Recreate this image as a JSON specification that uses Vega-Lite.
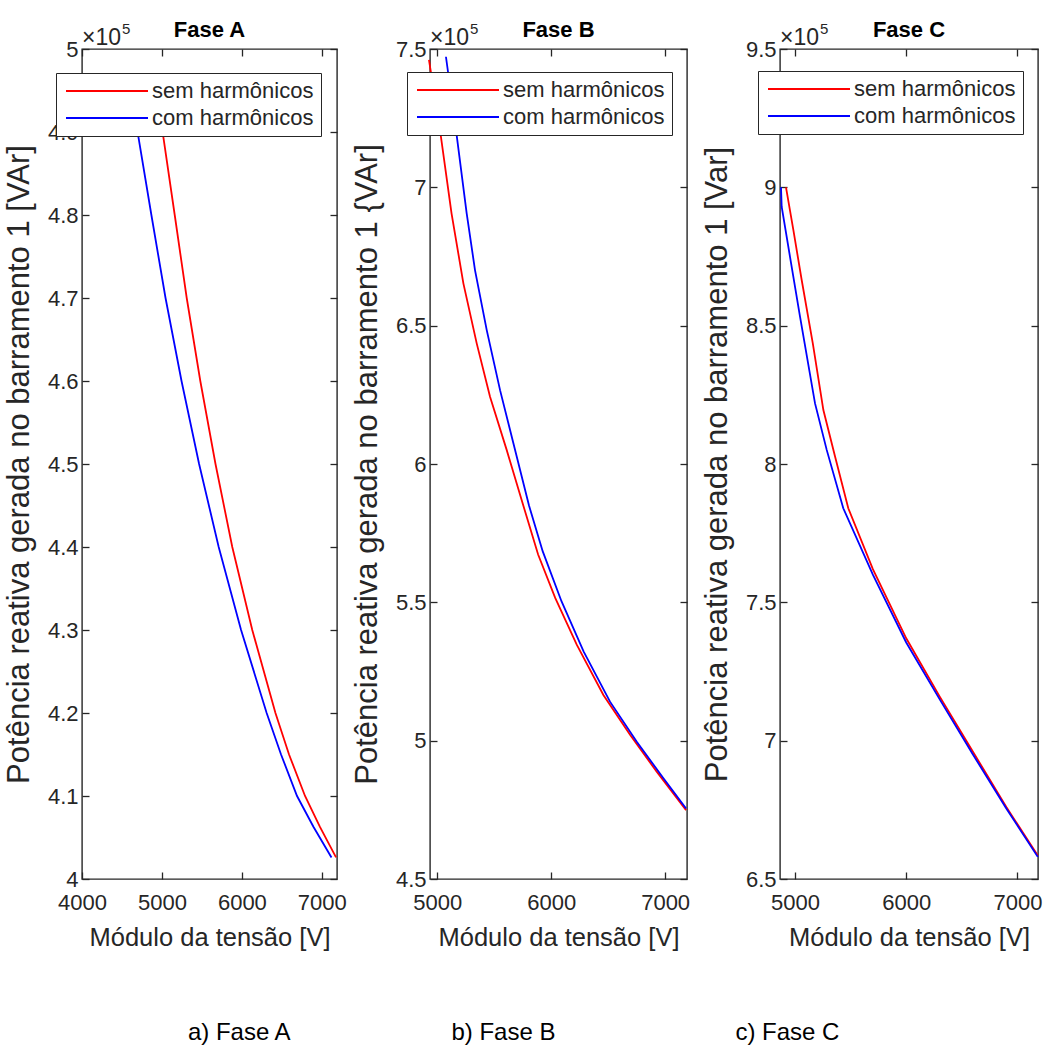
{
  "$schema": "https://vega.github.io/schema/vega-lite/v6.json",
  "padding": {"left": 2, "top": 18, "right": 5, "bottom": 5},
  "background": "white",
  "datasets": {
    "A": [
      {"serie": "sem harmônicos", "V": 4935, "Q": 4.950},
      {"serie": "sem harmônicos", "V": 5016, "Q": 4.895},
      {"serie": "sem harmônicos", "V": 5160, "Q": 4.800},
      {"serie": "sem harmônicos", "V": 5310, "Q": 4.700},
      {"serie": "sem harmônicos", "V": 5480, "Q": 4.600},
      {"serie": "sem harmônicos", "V": 5670, "Q": 4.500},
      {"serie": "sem harmônicos", "V": 5880, "Q": 4.400},
      {"serie": "sem harmônicos", "V": 6130, "Q": 4.300},
      {"serie": "sem harmônicos", "V": 6420, "Q": 4.200},
      {"serie": "sem harmônicos", "V": 6590, "Q": 4.150},
      {"serie": "sem harmônicos", "V": 6790, "Q": 4.100},
      {"serie": "sem harmônicos", "V": 6975, "Q": 4.063},
      {"serie": "sem harmônicos", "V": 7178, "Q": 4.026},
      {"serie": "com harmônicos", "V": 4640, "Q": 4.935},
      {"serie": "com harmônicos", "V": 4704, "Q": 4.895},
      {"serie": "com harmônicos", "V": 4868, "Q": 4.800},
      {"serie": "com harmônicos", "V": 5045, "Q": 4.700},
      {"serie": "com harmônicos", "V": 5245, "Q": 4.600},
      {"serie": "com harmônicos", "V": 5465, "Q": 4.500},
      {"serie": "com harmônicos", "V": 5710, "Q": 4.400},
      {"serie": "com harmônicos", "V": 5990, "Q": 4.300},
      {"serie": "com harmônicos", "V": 6310, "Q": 4.200},
      {"serie": "com harmônicos", "V": 6490, "Q": 4.150},
      {"serie": "com harmônicos", "V": 6690, "Q": 4.100},
      {"serie": "com harmônicos", "V": 6895, "Q": 4.063},
      {"serie": "com harmônicos", "V": 7121, "Q": 4.026}
    ],
    "B": [
      {"serie": "sem harmônicos", "V": 4927, "Q": 7.461},
      {"serie": "sem harmônicos", "V": 5030, "Q": 7.189},
      {"serie": "sem harmônicos", "V": 5125, "Q": 6.906},
      {"serie": "sem harmônicos", "V": 5229, "Q": 6.653},
      {"serie": "sem harmônicos", "V": 5346, "Q": 6.436},
      {"serie": "sem harmônicos", "V": 5463, "Q": 6.243},
      {"serie": "sem harmônicos", "V": 5609, "Q": 6.051},
      {"serie": "sem harmônicos", "V": 5755, "Q": 5.850},
      {"serie": "sem harmônicos", "V": 5885, "Q": 5.673},
      {"serie": "sem harmônicos", "V": 6035, "Q": 5.516},
      {"serie": "sem harmônicos", "V": 6224, "Q": 5.347},
      {"serie": "sem harmônicos", "V": 6458, "Q": 5.165},
      {"serie": "sem harmônicos", "V": 6692, "Q": 5.021},
      {"serie": "sem harmônicos", "V": 6926, "Q": 4.888},
      {"serie": "sem harmônicos", "V": 7184, "Q": 4.749},
      {"serie": "com harmônicos", "V": 5076, "Q": 7.472},
      {"serie": "com harmônicos", "V": 5170, "Q": 7.189},
      {"serie": "com harmônicos", "V": 5258, "Q": 6.906},
      {"serie": "com harmônicos", "V": 5331, "Q": 6.701},
      {"serie": "com harmônicos", "V": 5434, "Q": 6.484},
      {"serie": "com harmônicos", "V": 5551, "Q": 6.267},
      {"serie": "com harmônicos", "V": 5668, "Q": 6.075},
      {"serie": "com harmônicos", "V": 5805, "Q": 5.850},
      {"serie": "com harmônicos", "V": 5925, "Q": 5.685},
      {"serie": "com harmônicos", "V": 6090, "Q": 5.504},
      {"serie": "com harmônicos", "V": 6285, "Q": 5.322},
      {"serie": "com harmônicos", "V": 6516, "Q": 5.141},
      {"serie": "com harmônicos", "V": 6751, "Q": 4.996},
      {"serie": "com harmônicos", "V": 6985, "Q": 4.864},
      {"serie": "com harmônicos", "V": 7184, "Q": 4.755}
    ],
    "C": [
      {"serie": "sem harmônicos", "V": 4919, "Q": 9.000},
      {"serie": "sem harmônicos", "V": 4985, "Q": 8.846},
      {"serie": "sem harmônicos", "V": 5060, "Q": 8.665},
      {"serie": "sem harmônicos", "V": 5160, "Q": 8.436},
      {"serie": "sem harmônicos", "V": 5255, "Q": 8.195},
      {"serie": "sem harmônicos", "V": 5360, "Q": 8.027},
      {"serie": "sem harmônicos", "V": 5479, "Q": 7.840},
      {"serie": "sem harmônicos", "V": 5700, "Q": 7.620},
      {"serie": "sem harmônicos", "V": 6000, "Q": 7.370},
      {"serie": "sem harmônicos", "V": 6300, "Q": 7.160},
      {"serie": "sem harmônicos", "V": 6600, "Q": 6.960},
      {"serie": "sem harmônicos", "V": 6900, "Q": 6.760},
      {"serie": "sem harmônicos", "V": 7183, "Q": 6.585},
      {"serie": "com harmônicos", "V": 4874, "Q": 9.000},
      {"serie": "com harmônicos", "V": 4880, "Q": 8.930},
      {"serie": "com harmônicos", "V": 4955, "Q": 8.749},
      {"serie": "com harmônicos", "V": 5045, "Q": 8.533},
      {"serie": "com harmônicos", "V": 5180, "Q": 8.219},
      {"serie": "com harmônicos", "V": 5285, "Q": 8.051},
      {"serie": "com harmônicos", "V": 5434, "Q": 7.840},
      {"serie": "com harmônicos", "V": 5700, "Q": 7.600},
      {"serie": "com harmônicos", "V": 6000, "Q": 7.355},
      {"serie": "com harmônicos", "V": 6300, "Q": 7.150},
      {"serie": "com harmônicos", "V": 6600, "Q": 6.950},
      {"serie": "com harmônicos", "V": 6900, "Q": 6.755},
      {"serie": "com harmônicos", "V": 7183, "Q": 6.580}
    ],
    "mult": [{"m": "×10", "e": "5"}]
  },
  "config": {
    "font": "Liberation Sans",
    "view": {"stroke": "#262626", "strokeWidth": 1.4},
    "axis": {
      "labelFont": "Liberation Sans", "labelFontSize": 22, "labelColor": "#262626", "labelFlush": false, "labelOverlap": false,
      "titleFont": "Liberation Sans", "titleFontWeight": "normal", "titleColor": "#262626",
      "tickColor": "#262626", "tickSize": -7, "tickWidth": 1.3, "grid": false, "domain": false
    },
    "legend": {
      "labelFont": "Liberation Sans", "labelFontSize": 22, "labelColor": "#262626", "labelLimit": 400,
      "orient": "none", "title": null, "symbolType": "M-1.6,0H14.8", "symbolSize": 100, "symbolStrokeWidth": 1.8,
      "labelOffset": 67, "fillColor": "white", "strokeColor": "#262626", "padding": 7, "rowPadding": 5
    },
    "line": {"strokeWidth": 1.8, "clip": true}
  },
  "title": {
    "text": "a) Fase A\u2003\u2003\u2003\u2003\u2003\u2003\u2002\u2009b) Fase B\u2003\u2003\u2003\u2003\u2003\u2003\u2003\u2002c) Fase C",
    "orient": "bottom", "anchor": "middle", "fontSize": 24, "fontWeight": "normal",
    "font": "Liberation Sans", "color": "black", "offset": 70, "dx": -9
  },
  "resolve": {"scale": {"color": "independent", "x": "independent", "y": "independent"}, "legend": {"color": "independent"}},
  "spacing": 93,
  "bounds": "flush",
  "hconcat": [
    {
      "width": 255, "height": 830,
      "title": {"text": "Fase A", "fontSize": 22, "fontWeight": "bold", "color": "black", "offset": -20},
      "data": {"name": "A"},
      "resolve": {"axis": {"x": "independent", "y": "independent"}},
      "layer": [
        {
          "mark": "line",
          "encoding": {
            "x": {"field": "V", "type": "quantitative", "scale": {"domain": [4000, 7190], "nice": false, "zero": false},
                  "axis": {"orient": "bottom", "values": [4000, 5000, 6000, 7000], "format": "d", "title": "Módulo da tensão [V]", "titleFontSize": 25.5, "labelPadding": 20, "titlePadding": 12}},
            "y": {"field": "Q", "type": "quantitative", "scale": {"domain": [4, 5], "nice": false, "zero": false},
                  "axis": {"orient": "left", "values": [4, 4.1, 4.2, 4.3, 4.4, 4.5, 4.6, 4.7, 4.8, 4.9, 5], "format": "~g", "title": "Potência reativa gerada no barramento 1 [VAr]", "titleFontSize": 31, "labelPadding": 11, "titlePadding": 12}},
            "color": {"field": "serie", "type": "nominal",
                      "scale": {"domain": ["sem harmônicos", "com harmônicos"], "range": ["#ff0000", "#0000ff"]},
                      "legend": {"legendX": -26, "legendY": 24}}
          }
        },
        {
          "mark": {"type": "point", "opacity": 0},
          "encoding": {
            "x": {"field": "V", "type": "quantitative", "scale": {"domain": [4000, 7190], "nice": false, "zero": false},
                  "axis": {"orient": "top", "values": [4000, 5000, 6000, 7000], "labels": false, "title": null}},
            "y": {"field": "Q", "type": "quantitative", "scale": {"domain": [4, 5], "nice": false, "zero": false},
                  "axis": {"orient": "right", "values": [4, 4.1, 4.2, 4.3, 4.4, 4.5, 4.6, 4.7, 4.8, 4.9, 5], "labels": false, "title": null}}
          }
        },
        {
          "data": {"name": "mult"},
          "mark": {"type": "text", "align": "left", "baseline": "alphabetic", "dy": -4, "fontSize": 23, "font": "Liberation Sans", "color": "#262626"},
          "encoding": {"x": {"datum": 4000, "axis": null}, "y": {"datum": 5, "axis": null}, "text": {"field": "m"}}
        },
        {
          "data": {"name": "mult"},
          "mark": {"type": "text", "align": "left", "baseline": "alphabetic", "dx": 40, "dy": -15, "fontSize": 15, "font": "Liberation Sans", "color": "#262626"},
          "encoding": {"x": {"datum": 4000, "axis": null}, "y": {"datum": 5, "axis": null}, "text": {"field": "e"}}
        }
      ]
    },
    {
      "width": 257, "height": 830,
      "title": {"text": "Fase B", "fontSize": 22, "fontWeight": "bold", "color": "black", "offset": -20},
      "data": {"name": "B"},
      "resolve": {"axis": {"x": "independent", "y": "independent"}},
      "layer": [
        {
          "mark": "line",
          "encoding": {
            "x": {"field": "V", "type": "quantitative", "scale": {"domain": [4936, 7192], "nice": false, "zero": false},
                  "axis": {"orient": "bottom", "values": [5000, 6000, 7000], "format": "d", "title": "Módulo da tensão [V]", "titleFontSize": 25.5, "labelPadding": 20, "titlePadding": 12}},
            "y": {"field": "Q", "type": "quantitative", "scale": {"domain": [4.5, 7.5], "nice": false, "zero": false},
                  "axis": {"orient": "left", "values": [4.5, 5, 5.5, 6, 6.5, 7, 7.5], "format": "~g", "title": "Potência reativa gerada no barramento 1 {VAr]", "titleFontSize": 31, "labelPadding": 11, "titlePadding": 12}},
            "color": {"field": "serie", "type": "nominal",
                      "scale": {"domain": ["sem harmônicos", "com harmônicos"], "range": ["#ff0000", "#0000ff"]},
                      "legend": {"legendX": -23, "legendY": 23}}
          }
        },
        {
          "mark": {"type": "point", "opacity": 0},
          "encoding": {
            "x": {"field": "V", "type": "quantitative", "scale": {"domain": [4936, 7192], "nice": false, "zero": false},
                  "axis": {"orient": "top", "values": [5000, 6000, 7000], "labels": false, "title": null}},
            "y": {"field": "Q", "type": "quantitative", "scale": {"domain": [4.5, 7.5], "nice": false, "zero": false},
                  "axis": {"orient": "right", "values": [4.5, 5, 5.5, 6, 6.5, 7, 7.5], "labels": false, "title": null}}
          }
        },
        {
          "data": {"name": "mult"},
          "mark": {"type": "text", "align": "left", "baseline": "alphabetic", "dy": -4, "fontSize": 23, "font": "Liberation Sans", "color": "#262626"},
          "encoding": {"x": {"datum": 4936, "axis": null}, "y": {"datum": 7.5, "axis": null}, "text": {"field": "m"}}
        },
        {
          "data": {"name": "mult"},
          "mark": {"type": "text", "align": "left", "baseline": "alphabetic", "dx": 40, "dy": -15, "fontSize": 15, "font": "Liberation Sans", "color": "#262626"},
          "encoding": {"x": {"datum": 4936, "axis": null}, "y": {"datum": 7.5, "axis": null}, "text": {"field": "e"}}
        }
      ]
    },
    {
      "width": 258, "height": 830,
      "title": {"text": "Fase C", "fontSize": 22, "fontWeight": "bold", "color": "black", "offset": -20},
      "data": {"name": "C"},
      "resolve": {"axis": {"x": "independent", "y": "independent"}},
      "layer": [
        {
          "mark": "line",
          "encoding": {
            "x": {"field": "V", "type": "quantitative", "scale": {"domain": [4865, 7185], "nice": false, "zero": false},
                  "axis": {"orient": "bottom", "values": [5000, 6000, 7000], "format": "d", "title": "Módulo da tensão [V]", "titleFontSize": 25.5, "labelPadding": 20, "titlePadding": 12}},
            "y": {"field": "Q", "type": "quantitative", "scale": {"domain": [6.5, 9.5], "nice": false, "zero": false},
                  "axis": {"orient": "left", "values": [6.5, 7, 7.5, 8, 8.5, 9, 9.5], "format": "~g", "title": "Potência reativa gerada no barramento 1 [Var]", "titleFontSize": 31, "labelPadding": 11, "titlePadding": 12}},
            "color": {"field": "serie", "type": "nominal",
                      "scale": {"domain": ["sem harmônicos", "com harmônicos"], "range": ["#ff0000", "#0000ff"]},
                      "legend": {"legendX": -22, "legendY": 22}}
          }
        },
        {
          "mark": {"type": "point", "opacity": 0},
          "encoding": {
            "x": {"field": "V", "type": "quantitative", "scale": {"domain": [4865, 7185], "nice": false, "zero": false},
                  "axis": {"orient": "top", "values": [5000, 6000, 7000], "labels": false, "title": null}},
            "y": {"field": "Q", "type": "quantitative", "scale": {"domain": [6.5, 9.5], "nice": false, "zero": false},
                  "axis": {"orient": "right", "values": [6.5, 7, 7.5, 8, 8.5, 9, 9.5], "labels": false, "title": null}}
          }
        },
        {
          "data": {"name": "mult"},
          "mark": {"type": "text", "align": "left", "baseline": "alphabetic", "dy": -4, "fontSize": 23, "font": "Liberation Sans", "color": "#262626"},
          "encoding": {"x": {"datum": 4865, "axis": null}, "y": {"datum": 9.5, "axis": null}, "text": {"field": "m"}}
        },
        {
          "data": {"name": "mult"},
          "mark": {"type": "text", "align": "left", "baseline": "alphabetic", "dx": 40, "dy": -15, "fontSize": 15, "font": "Liberation Sans", "color": "#262626"},
          "encoding": {"x": {"datum": 4865, "axis": null}, "y": {"datum": 9.5, "axis": null}, "text": {"field": "e"}}
        }
      ]
    }
  ]
}
